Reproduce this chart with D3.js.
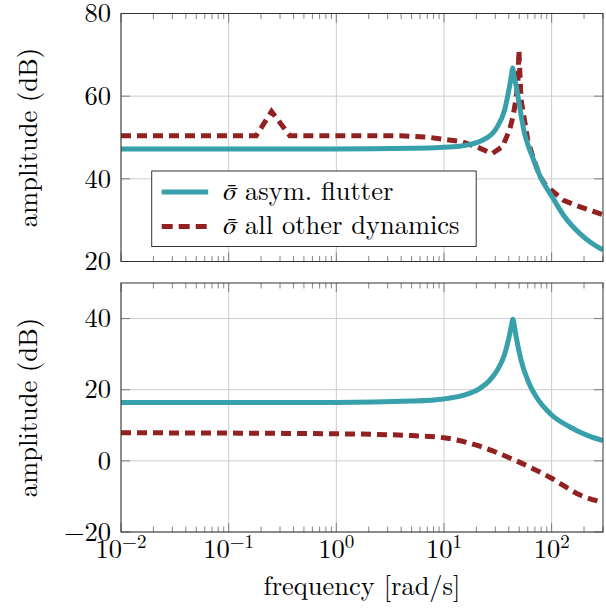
<!DOCTYPE html>
<html>
<head>
<meta charset="utf-8">
<script src="https://cdn.jsdelivr.net/npm/d3@7/dist/d3.min.js"></script>
<style>
body { margin: 0; background: #fff; }
</style>
</head>
<body>
<svg id="chart" width="606" height="610" font-family="'Latin Modern Roman', 'Liberation Serif', serif"></svg>
<script>
// [frequency rad/s, amplitude dB]
var flutterTop = [[0.01,47.2],[1,47.2],[5,47.4],[9.1,47.6],[14,47.9],[23,49.4],[30.6,52.2],[36.6,56.7],[40.6,62.3],
  [42.5,65.3],[43.4,66.8],[44.6,65],[47,62.3],[50.4,57.5],[56,51],[62,47.3],[67,45],[77,41],[103,35.3],
  [129,31.2],[184,26.7],[240,24.3],[300,22.8]];
var otherTop = [[0.01,50.4],[0.18,50.4],[0.25,56.3],[0.37,50.4],[3.9,50.4],[7,50.1],[9.7,49.6],[14.5,49],[20,47.8],
  [28,46.1],[35,47.8],[40.6,51.8],[43.7,55],[46.5,59.1],[48.6,63.2],[49.7,71.1],[51,64],[52,59.1],[56,54.2],
  [60,49.4],[67,45.3],[72,43],[78,40.6],[87,38.6],[100,37.2],[129,34.8],[184,33.2],[300,31.3]];
var flutterBottom = [[0.01,16.4],[1,16.4],[5,16.8],[10,17.4],[15,18.4],[21.4,20.3],[26.5,22.6],[31.7,25.8],
  [36.6,30],[40.1,34.6],[42.2,37.8],[43.7,39.8],[45.2,37.6],[47,34.6],[52.2,28.1],[60.1,22.6],[71.9,18],
  [100,12.9],[146.6,9.6],[209,7.3],[300,5.7]];
var otherBottom = [[0.01,7.9],[1,7.6],[5,7.1],[10,6.5],[20,4.4],[47,0],[100,-4.9],[184,-9.6],[300,-11.7]];

var xTicks = [0.01, 0.1, 1, 10, 100];
var xExponents = ["\u22122", "\u22121", "0", "1", "2"];
var yTicksTop = [20, 40, 60, 80];
var yTicksBottom = [-20, 0, 20, 40];
var legendLabels = ["asym. flutter", "all other dynamics"];

var tealColor = "#37a0ab", redColor = "#922121";
var fs = "26.5px";

var svg = d3.select("#chart");
var left = 121, right = 603;
var w = right - left;

var x = d3.scaleLog().domain([0.01, 300]).range([0, w]);

// minor ticks 2..9 per decade
var minorTicks = [];
for (var d = 0.01; d < 300; d *= 10) {
  for (var k = 2; k <= 9; k++) {
    if (d * k <= 300) minorTicks.push(d * k);
  }
}

function drawPanel(top, h, yDomain, yTicks, flutter, other, otherCurve, id) {
  var y = d3.scaleLinear().domain(yDomain).range([h, 0]);
  var g = svg.append("g").attr("transform", "translate(" + left + "," + top + ")");

  g.append("clipPath").attr("id", id).append("rect").attr("width", w).attr("height", h);

  // grid
  g.selectAll(".gx").data(xTicks).enter().append("line")
    .attr("x1", function(d) { return x(d); }).attr("x2", function(d) { return x(d); })
    .attr("y1", 0).attr("y2", h)
    .attr("stroke", "#cccccc").attr("stroke-width", 1);
  g.selectAll(".gy").data(yTicks).enter().append("line")
    .attr("y1", function(d) { return y(d); }).attr("y2", function(d) { return y(d); })
    .attr("x1", 0).attr("x2", w)
    .attr("stroke", "#cccccc").attr("stroke-width", 1);

  // ticks (inward, both sides)
  var tickCol = "#666";
  [0, h].forEach(function(edge) {
    var dir = edge === 0 ? 1 : -1;
    g.selectAll(null).data(minorTicks).enter().append("line")
      .attr("x1", function(d) { return x(d); }).attr("x2", function(d) { return x(d); })
      .attr("y1", edge).attr("y2", edge + dir * 5.5)
      .attr("stroke", tickCol).attr("stroke-width", 0.8);
    g.selectAll(null).data(xTicks).enter().append("line")
      .attr("x1", function(d) { return x(d); }).attr("x2", function(d) { return x(d); })
      .attr("y1", edge).attr("y2", edge + dir * 9)
      .attr("stroke", tickCol).attr("stroke-width", 0.8);
  });
  [0, w].forEach(function(edge) {
    var dir = edge === 0 ? 1 : -1;
    g.selectAll(null).data(yTicks).enter().append("line")
      .attr("y1", function(d) { return y(d); }).attr("y2", function(d) { return y(d); })
      .attr("x1", edge).attr("x2", edge + dir * 9)
      .attr("stroke", tickCol).attr("stroke-width", 0.8);
  });

  // y tick labels
  g.selectAll(".yl").data(yTicks).enter().append("text")
    .attr("x", -10).attr("y", function(d) { return y(d); })
    .attr("dy", "0.33em").attr("text-anchor", "end")
    .style("font-size", fs)
    .text(function(d) { return d < 0 ? "\u2212" + Math.abs(d) : d; });

  var line = d3.line()
    .x(function(d) { return x(d[0]); })
    .y(function(d) { return y(d[1]); });

  g.append("path").datum(other)
    .attr("clip-path", "url(#" + id + ")")
    .attr("d", line.curve(otherCurve)).attr("fill", "none")
    .attr("stroke", redColor).attr("stroke-width", 5)
    .attr("stroke-dasharray", "10,6");
  g.append("path").datum(flutter)
    .attr("clip-path", "url(#" + id + ")")
    .attr("d", line.curve(d3.curveMonotoneX)).attr("fill", "none")
    .attr("stroke", tealColor).attr("stroke-width", 5);

  // frame
  g.append("rect").attr("width", w).attr("height", h)
    .attr("fill", "none").attr("stroke", "#333").attr("stroke-width", 1);

  // y label
  svg.append("text")
    .attr("transform", "translate(37," + (top + h / 2) + ") rotate(-90)")
    .attr("text-anchor", "middle")
    .style("font-size", fs)
    .text("amplitude (dB)");

  return g;
}

var gTop = drawPanel(13.5, 248, [20, 80], yTicksTop, flutterTop, otherTop, d3.curveLinear, "clipTop");
var gBot = drawPanel(283, 249, [-20, 50], yTicksBottom, flutterBottom, otherBottom, d3.curveMonotoneX, "clipBot");

// x tick labels
var xl = svg.selectAll(".xl").data(xTicks).enter().append("text")
  .attr("x", function(d) { return left + x(d); })
  .attr("y", 558)
  .attr("text-anchor", "middle")
  .style("font-size", fs);
xl.append("tspan").text("10");
xl.append("tspan").attr("dy", -10).style("font-size", "19px")
  .text(function(d, i) { return xExponents[i]; });

svg.append("text")
  .attr("x", left + w / 2).attr("y", 595)
  .attr("text-anchor", "middle")
  .style("font-size", fs)
  .text("frequency [rad/s]");

// legend
var lg = gTop.append("g").attr("transform", "translate(30.7,157.5)");
lg.append("rect").attr("width", 324.5).attr("height", 75.5)
  .attr("fill", "#fff").attr("stroke", "#333").attr("stroke-width", 1);
var rows = lg.selectAll(".lr").data(legendLabels).enter().append("g")
  .attr("transform", function(d, i) { return "translate(0," + (21 + i * 34.4) + ")"; });
rows.append("line").attr("x1", 10).attr("x2", 56.5).attr("y1", 0).attr("y2", 0)
  .attr("stroke", function(d, i) { return i === 0 ? tealColor : redColor; })
  .attr("stroke-width", 5)
  .attr("stroke-dasharray", function(d, i) { return i === 0 ? null : "11,6"; });
var lt = rows.append("text").attr("x", 71.5).attr("y", 7.5).style("font-size", fs);
lt.append("tspan").style("font-family", "FreeSerif").style("font-style", "italic").text("\u03C3\u0304");
lt.append("tspan").text(function(d) { return " " + d; });
</script>
</body>
</html>
